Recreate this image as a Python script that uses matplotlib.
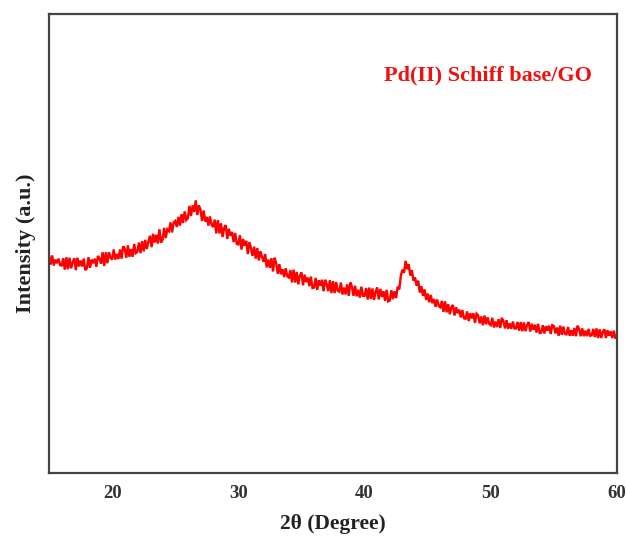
import numpy as np
import matplotlib
matplotlib.use("Agg")
import matplotlib.pyplot as plt

# XRD pattern of Pd(II) Schiff base/GO, 2-theta in 0.125 degree steps from 15 to 60
two_theta_start = 15.0
two_theta_step = 0.125
intensity = [
    47.3, 45.4, 47.4, 45.2, 46.5, 45.7, 46.7, 45.3,   # 15
    45.2, 46.8, 44.3, 47.0, 44.4, 46.9, 44.6, 45.9,   # 16
    46.8, 44.2, 46.9, 45.0, 46.3, 45.0, 46.7, 44.2,   # 17
    44.6, 47.0, 44.7, 46.5, 45.7, 46.7, 44.9, 47.3,   # 18
    46.7, 45.6, 48.1, 45.1, 48.1, 45.7, 48.1, 46.9,   # 19
    46.5, 48.7, 46.5, 47.7, 46.6, 48.7, 46.7, 49.4,   # 20
    48.9, 46.9, 49.6, 47.1, 48.8, 47.1, 49.9, 47.9,   # 21
    48.2, 50.2, 47.9, 50.5, 48.3, 50.8, 48.8, 50.4,   # 22
    51.7, 49.2, 52.1, 50.2, 51.9, 50.0, 53.1, 50.2,   # 23
    50.9, 53.4, 51.2, 53.1, 52.7, 54.6, 52.4, 54.6,   # 24
    54.9, 53.6, 55.8, 53.9, 56.4, 54.5, 57.0, 55.1,   # 25
    55.5, 58.2, 56.0, 58.3, 56.9, 59.4, 56.2, 58.3,   # 26
    57.4, 54.9, 57.2, 54.8, 55.8, 53.9, 55.9, 54.1,   # 27
    53.6, 55.2, 52.2, 55.1, 52.2, 54.4, 51.4, 53.4,   # 28
    54.0, 51.0, 53.2, 51.7, 52.5, 50.3, 52.3, 49.9,   # 29
    49.8, 51.8, 48.7, 51.0, 49.5, 50.6, 47.7, 50.3,   # 30
    49.0, 47.3, 49.3, 46.7, 49.0, 46.3, 48.3, 47.1,   # 31
    46.0, 47.7, 44.8, 46.5, 44.7, 46.8, 43.9, 46.9,   # 32
    45.7, 43.4, 45.5, 43.3, 44.4, 42.7, 44.6, 42.9,   # 33
    42.6, 44.2, 41.5, 44.3, 41.5, 43.8, 41.1, 43.0,   # 34
    43.7, 40.9, 43.2, 41.6, 42.6, 40.7, 42.8, 40.3,   # 35
    40.4, 42.5, 39.9, 42.0, 40.8, 42.1, 39.6, 42.1,   # 36
    41.1, 39.6, 42.0, 39.2, 41.8, 39.2, 41.6, 39.7,   # 37
    39.5, 41.5, 38.9, 40.4, 38.9, 41.1, 38.6, 41.5,   # 38
    40.6, 38.6, 40.8, 38.5, 39.9, 38.2, 40.6, 38.6,   # 39
    38.6, 40.3, 37.8, 40.4, 37.9, 40.2, 37.7, 39.5,   # 40
    40.4, 37.8, 40.1, 38.4, 39.6, 37.5, 39.9, 37.4,   # 41
    37.6, 39.8, 37.9, 39.6, 38.1, 40.6, 40.0, 43.0,   # 42
    44.3, 43.6, 46.2, 44.4, 45.5, 43.0, 44.2, 41.9,   # 43
    42.6, 40.8, 41.9, 39.3, 40.7, 38.6, 40.0, 37.7,   # 44
    39.1, 37.2, 38.8, 37.0, 37.9, 36.2, 37.8, 36.4,   # 45
    36.1, 37.5, 35.1, 37.4, 35.0, 36.8, 34.6, 36.1,   # 46
    36.6, 34.3, 36.1, 34.8, 35.6, 33.9, 35.5, 33.7,   # 47
    33.6, 35.2, 33.1, 34.8, 33.7, 34.8, 32.7, 34.7,   # 48
    34.3, 32.6, 34.1, 32.2, 34.3, 32.4, 33.9, 32.5,   # 49
    32.2, 33.8, 31.7, 33.0, 31.8, 33.5, 31.6, 33.8,   # 50
    33.1, 31.5, 33.3, 31.4, 32.6, 31.4, 33.0, 31.5,   # 51
    31.5, 32.9, 31.0, 32.9, 30.9, 32.8, 30.9, 32.2,   # 52
    32.9, 30.8, 32.5, 31.2, 32.3, 30.6, 32.5, 30.5,   # 53
    30.6, 32.2, 30.4, 32.0, 31.0, 32.1, 30.3, 32.2,   # 54
    32.0, 30.4, 31.7, 29.9, 32.1, 30.1, 31.9, 30.3,   # 55
    30.2, 31.8, 29.9, 31.1, 29.9, 31.6, 29.8, 32.1,   # 56
    31.4, 29.8, 31.5, 29.8, 31.0, 29.8, 31.4, 29.9,   # 57
    30.0, 31.4, 29.6, 31.5, 29.4, 31.3, 29.4, 30.8,   # 58
    31.3, 29.4, 31.1, 29.9, 30.9, 29.4, 31.0, 29.3,   # 59
    29.8,                                             # 60
]
two_theta = two_theta_start + two_theta_step * np.arange(len(intensity))

x_ticks = [20, 30, 40, 50, 60]
sample_label = "Pd(II) Schiff base/GO"

plt.rcParams["font.family"] = ["Liberation Serif", "DejaVu Serif"]

fig = plt.figure(figsize=(6.26, 5.37), dpi=100)
ax = fig.add_axes([0.0783, 0.1192, 0.9073, 0.8547])

ax.plot(two_theta, intensity, color="#ff0000", lw=1.7, solid_joinstyle="miter")

ax.set_xlim(15, 60)
ax.set_ylim(0, 100)
ax.set_xticks(x_ticks)
ax.set_xticklabels([str(t) for t in x_ticks], fontsize=13.5, fontweight="bold", color="#333333")
ax.set_yticks([])
ax.tick_params(axis="x", length=0, pad=9)

for sp in ax.spines.values():
    sp.set_linewidth(1.6)
    sp.set_color("#444444")

ax.set_xlabel("2θ (Degree)", fontsize=15.5, fontweight="bold", labelpad=8, color="#222222")
ax.set_ylabel("Intensity (a.u.)", fontsize=16, fontweight="bold", labelpad=9.5, color="#222222")

ax.text(49.8, 86.7, sample_label, color="#ee1111", fontsize=16, fontweight="bold",
        ha="center", va="center")

fig.savefig("out.png", dpi=100)
